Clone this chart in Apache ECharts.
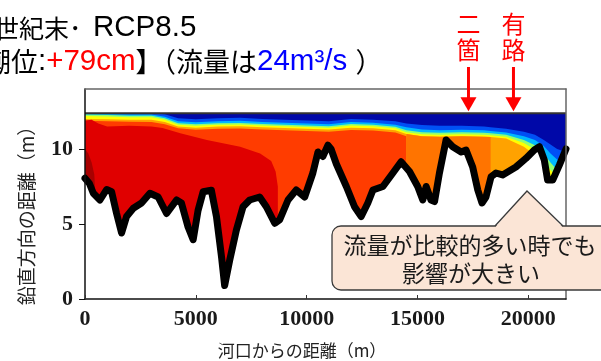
<!DOCTYPE html>
<html><head><meta charset="utf-8">
<script src="https://cdn.jsdelivr.net/npm/echarts@6/dist/echarts.min.js"></script>
<style>html,body{margin:0;padding:0;background:#fff}#c{width:601px;height:361px}</style>
</head><body><div id="c"></div>
<script>
// ---- data (metres from river mouth, metres above datum) ----
const xs = [0,1000,2000,3000,3600,4200,5000,6000,7000,8000,9000,10000,11000,12000,13000,14000,14500,15200,16000,17000,18000,18300,19000,19800,20300,20700,21000,21300,21700];
const surfaceLevel = 12.38;
const darkBlueBottom = [12.38,12.38,12.38,12.38,12.32,12.05,11.98,12.05,12.08,12.0,11.95,11.9,11.85,12.0,11.95,11.85,11.7,11.6,11.55,11.55,11.5,11.45,11.35,11.15,10.95,10.6,10.3,10.0,9.8];
const blueBottom     = [12.38,12.34,12.3,12.3,12.15,11.85,11.78,11.85,11.88,11.8,11.75,11.7,11.65,11.8,11.75,11.62,11.45,11.3,11.25,11.28,11.25,11.2,11.1,10.85,10.6,10.2,9.7,9.3,9.0];
const cyanBottom     = [12.3,12.26,12.22,12.22,12.05,11.72,11.65,11.72,11.74,11.67,11.62,11.57,11.52,11.67,11.62,11.48,11.25,11.12,11.08,11.12,11.08,11.05,10.95,10.6,10.25,9.7,9.1,8.6,8.5];
const greenBottom    = [12.2,12.16,12.12,12.12,11.95,11.62,11.55,11.62,11.64,11.57,11.52,11.47,11.42,11.57,11.52,11.38,11.12,10.98,10.95,10.98,10.95,10.92,10.82,10.4,9.95,9.2,8.6,8.2,8.0];
const yellowBottom   = [12.0,11.98,11.95,11.95,11.8,11.5,11.42,11.5,11.52,11.45,11.4,11.35,11.3,11.42,11.38,11.25,11.0,10.85,10.82,10.85,10.82,10.8,10.7,10.15,9.6,8.8,8.2,7.8,7.6];
const zoneATop       = [11.88,11.85,11.82,11.8,11.65,11.38,11.28,11.35,11.37,11.3,11.25,11.2,11.15,11.27,11.23,11.1,10.85]; // x 0..14500
const zoneBStart = 14500, zoneBEnd = 18300;
const redWedge = [[0,11.9],[300,11.95],[600,11.7],[1000,11.5],[2000,11.55],[3000,11.5],[3500,11.4],[4300,11.05],[5500,10.6],[6500,10.3],[7000,10.15],[7900,9.7],[8400,9.2],[8600,8.5],[8700,7.5]];
const darkRedPatch = [[0,10.0],[150,9.7],[300,9.1],[420,8.3],[450,7.5]];
const bed = [[0,8.05],[200,7.7],[375,7.05],[675,6.6],[975,7.3],[1200,7.15],[1425,5.7],[1650,4.4],[1875,5.5],[2180,6.05],[2550,6.4],[2930,7.05],[3300,6.8],[3680,5.7],[4130,6.6],[4350,6.4],[4650,4.8],[4880,3.95],[5100,5.9],[5330,7.15],[5700,7.25],[5930,5.5],[6160,2.8],[6300,0.9],[6530,2.6],[6830,4.6],[7130,6.15],[7430,6.6],[7880,6.8],[8180,6.15],[8560,5.05],[8780,5.27],[9160,6.6],[9530,7.27],[9910,6.8],[10280,8.4],[10510,9.8],[10730,9.5],[10960,10.25],[11100,10.0],[11340,9.0],[11790,7.5],[12160,6.15],[12460,5.5],[12760,6.4],[12990,7.27],[13440,7.5],[13890,8.4],[14260,9.15],[14640,8.5],[15010,7.5],[15240,6.6],[15390,7.5],[15610,6.6],[15770,6.5],[15990,8.4],[16290,10.6],[16590,10.15],[16970,9.8],[17190,9.93],[17490,8.8],[17720,7.27],[17910,6.4],[18090,6.8],[18320,8.15],[18540,8.4],[18840,8.27],[19440,8.8],[19890,9.37],[20270,9.93],[20500,10.15],[20720,9.27],[20870,7.93],[21100,7.93],[21400,8.93],[21700,10.0]];
const xTicks = [0,5000,10000,15000,20000];
const yTicks = [0,5,10];
const xMax = 21700, yMax = 14;
const sites = [{name:'二\n箇', x:17300},{name:'有\n路', x:19330}];

// ---- build ----
function zip(a, i0, i1){ const out=[]; for(let i=i0;i<=i1;i++) out.push([xs[i], a[i]]); return out; }
function area(data, color){
  return {type:'line', data, symbol:'none', showSymbol:false, silent:true, animation:false,
    lineStyle:{opacity:0, width:0}, areaStyle:{color, opacity:1, origin:'start'}};
}
const last = xs.length-1;
const iB0 = xs.indexOf(zoneBStart), iB1 = xs.indexOf(zoneBEnd);
const series = [
  area(xs.map(x=>[x,surfaceLevel]), '#0008a8'),
  area(zip(darkBlueBottom,0,last), '#0050f5'),
  area(zip(blueBottom,0,last), '#00b8ff'),
  area(zip(cyanBottom,0,last), '#90ff70'),
  area(zip(greenBottom,0,last), '#ffff00'),
  area(zip(yellowBottom,0,last), '#ffa200'),
  area(zoneATop.map((v,i)=>[xs[i],v]), '#ff3c00'),
  area(zip(yellowBottom,iB0,iB1), '#ff7400'),
  area(redWedge, '#e00000'),
  area(darkRedPatch, '#a80000'),
  {type:'line', data:bed, symbol:'none', showSymbol:false, silent:true, animation:false,
    lineStyle:{color:'#000', width:7, join:'round', cap:'round'},
    areaStyle:{color:'#fff', opacity:1, origin:'start'}},
  {type:'line', data:[[0,surfaceLevel],[xMax,surfaceLevel]], symbol:'none', silent:true, animation:false,
    lineStyle:{color:'#333', width:2}}
];

const chart = echarts.init(document.getElementById('c'), null, {renderer:'canvas'});
const tickFont = {fontFamily:'"Liberation Serif", serif', fontWeight:'bold', fontSize:22, color:'#1a1a1a'};
chart.setOption({
  animation:false,
  backgroundColor:'#fff',
  grid:{left:85, right:35, top:89, bottom:62, containLabel:false},
  xAxis:[
    {type:'value', min:0, max:xMax, interval:5000, position:'bottom', z:10,
     axisLine:{show:true, onZero:false, lineStyle:{color:'#111', width:1.5}},
     axisTick:{show:true, inside:true, length:4, customValues:xTicks, lineStyle:{color:'#333'}},
     axisLabel:Object.assign({customValues:xTicks, margin:9, formatter:v=>xTicks.includes(v)?String(v):''}, tickFont),
     splitLine:{show:false}},
    {type:'value', min:0, max:xMax, position:'top', z:10,
     axisLine:{show:true, onZero:false, lineStyle:{color:'#666', width:1.5}},
     axisTick:{show:false}, axisLabel:{show:false}, splitLine:{show:false}}
  ],
  yAxis:[
    {type:'value', min:0, max:yMax, interval:5, position:'left', z:10,
     axisLine:{show:true, onZero:false, lineStyle:{color:'#111', width:1.5}},
     axisTick:{show:true, length:6, customValues:yTicks, lineStyle:{color:'#111'}},
     axisLabel:Object.assign({customValues:yTicks, margin:12, formatter:v=>yTicks.includes(v)?String(v):''}, tickFont),
     splitLine:{show:false}},
    {type:'value', min:0, max:yMax, position:'right', z:10,
     axisLine:{show:true, onZero:false, lineStyle:{color:'#666', width:1.5}},
     axisTick:{show:false}, axisLabel:{show:false}, splitLine:{show:false}}
  ],
  series
});

// ---- annotations ----
const jp = '"Noto Sans CJK JP", sans-serif';
const lat = '"Liberation Sans", Arial, sans-serif';
const graphics = [
  {type:'text', x:-6, y:28, z:100, style:{text:'{c|世紀末}{d|･}{l|RCP8.5}', verticalAlign:'middle', align:'left',
     rich:{c:{fill:'#000', fontSize:25, fontFamily:jp}, d:{fill:'#000', fontSize:25, fontFamily:jp, width:24, align:'left'}, l:{fill:'#000', fontSize:29.5, fontFamily:lat}}}},
  {type:'text', x:-16, y:62, z:100, style:{text:'{c|潮位}{l|:}{r|+79cm}{c|】（流量は}{b|24m³/s}{l| }{c|）}', verticalAlign:'middle', align:'left',
     rich:{c:{fill:'#000', fontSize:27, fontFamily:jp}, l:{fill:'#000', fontSize:29.5, fontFamily:lat}, r:{fill:'#ff0000', fontSize:29.5, fontFamily:lat}, b:{fill:'#0000ff', fontSize:29.5, fontFamily:lat}}}},
  {type:'text', x:302, y:351, z:100, style:{text:'河口からの距離（m）', fontSize:17, fontFamily:jp, fill:'#222', align:'center', verticalAlign:'middle'}},
  {type:'text', x:27, y:211, rotation:Math.PI/2, z:100, style:{text:'鉛直方向の距離（m）', fontSize:19, fontFamily:jp, fill:'#222', align:'center', verticalAlign:'middle'}},
  {type:'rect', z:100, shape:{x:332, y:226, width:280, height:64, r:9}, style:{fill:'#fbe5d6', stroke:'#3a3a3a', lineWidth:1.3}},
  {type:'polygon', z:101, shape:{points:[[495,227.5],[527,191],[563,227.5]]}, style:{fill:'#fbe5d6'}},
  {type:'polyline', z:102, shape:{points:[[495,226],[527,191],[563,226]]}, style:{stroke:'#3a3a3a', lineWidth:1.3, fill:null}},
  {type:'text', x:470, y:245, z:103, style:{text:'流量が比較的多い時でも', fontSize:23, fontFamily:jp, fill:'#1a1a1a', align:'center', verticalAlign:'middle'}},
  {type:'text', x:471, y:273, z:103, style:{text:'影響が大きい', fontSize:23, fontFamily:jp, fill:'#1a1a1a', align:'center', verticalAlign:'middle'}}
];
sites.forEach(s=>{
  const p = chart.convertToPixel({xAxisIndex:0, yAxisIndex:0}, [s.x, surfaceLevel]);
  const px = p[0], tip = p[1]-2;
  graphics.push({type:'text', x:px, y:37, z:100, style:{text:s.name, fontSize:24, lineHeight:26, fontFamily:jp, fill:'#ff0000', align:'center', verticalAlign:'middle'}});
  graphics.push({type:'line', z:100, shape:{x1:px, y1:67, x2:px, y2:tip-12}, style:{stroke:'#ff0000', lineWidth:3}});
  graphics.push({type:'polygon', z:100, shape:{points:[[px-8,tip-14],[px+8,tip-14],[px,tip]]}, style:{fill:'#ff0000'}});
});
chart.setOption({graphic:graphics});
</script>
</body></html>
